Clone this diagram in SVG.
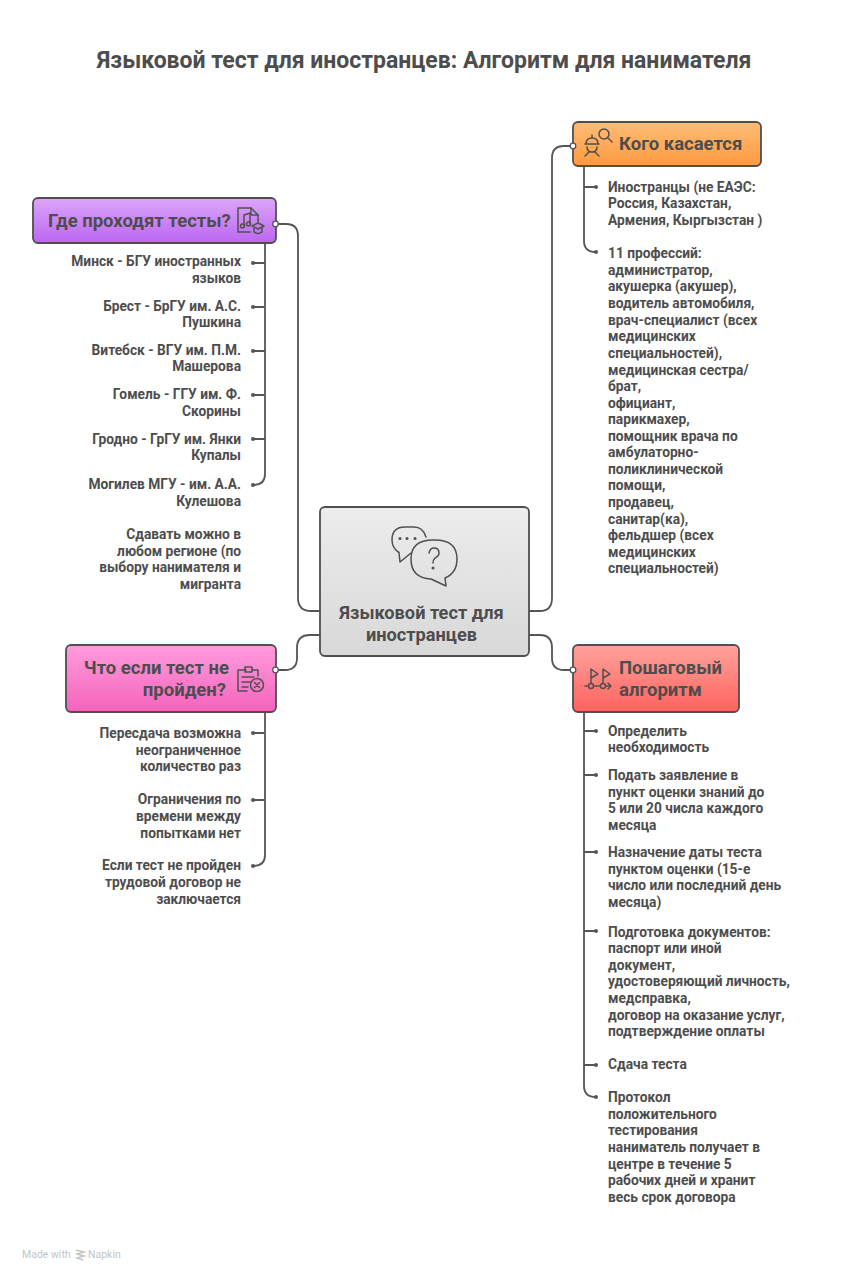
<svg xmlns="http://www.w3.org/2000/svg" width="849" height="1280" viewBox="0 0 849 1280">
<style>
text{font-family:Roboto,"Liberation Sans",sans-serif;font-weight:700;fill:#4d4d4d}
.t{font-size:23px;text-anchor:middle}
.h{font-size:18.5px}
.c{font-size:18.200px;text-anchor:middle}
.i{font-size:13.750px}
.r{text-anchor:end}
.box{stroke:#4f4f4f;stroke-width:1.8}
.ln{fill:none;stroke:#555;stroke-width:1.8;stroke-linecap:round}
.ic{fill:none;stroke:#505050;stroke-width:1.5;stroke-linecap:round;stroke-linejoin:round}
.pt{fill:#fff;stroke:#555;stroke-width:1.3}
.dot{fill:#555}
</style>
<defs>
<linearGradient id="gP" x1="0" y1="0" x2="0" y2="1"><stop offset="0" stop-color="#dca6f8"/><stop offset="1" stop-color="#bb66f2"/></linearGradient>
<linearGradient id="gO" x1="0" y1="0" x2="0" y2="1"><stop offset="0" stop-color="#ffbc76"/><stop offset="1" stop-color="#fd9a40"/></linearGradient>
<linearGradient id="gM" x1="0" y1="0" x2="0" y2="1"><stop offset="0" stop-color="#ff9cdc"/><stop offset="1" stop-color="#f563bc"/></linearGradient>
<linearGradient id="gR" x1="0" y1="0" x2="0" y2="1"><stop offset="0" stop-color="#ffa29c"/><stop offset="1" stop-color="#ff625e"/></linearGradient>
<linearGradient id="gG" x1="0" y1="0" x2="0" y2="1"><stop offset="0" stop-color="#ececec"/><stop offset="1" stop-color="#d8d8d8"/></linearGradient>
</defs>
<rect width="849" height="1280" fill="#fff"/>
<text id="title" class="t" x="424" y="68">Языковой тест для иностранцев: Алгоритм для нанимателя</text>

<g id="connectors">
<path class="ln" d="M275 224H286Q298 224 298 236V598Q298 611 311 611H320"/>
<path class="ln" d="M573 146H564Q552 146 552 158V598Q552 611 540 611H529"/>
<path class="ln" d="M275 670H285Q297 670 297 658V648Q297 635 310 635H320"/>
<path class="ln" d="M573 670H564Q552 670 552 658V648Q552 635 540 635H529"/>
<path class="ln" d="M265 243V474Q265 485 253 485M253 263H265M253 307H265M253 351H265M253 395H265M253 439H265"/>
<path class="ln" d="M584 166V241Q584 252 596 252M584 187H596"/>
<path class="ln" d="M265 712V855Q265 866 253 866M253 733H265M253 800H265"/>
<path class="ln" d="M584 712V1086Q584 1097 596 1097M584 731H596M584 775H596M584 852H596M584 931H596M584 1065H596"/>
<g class="dot">
<circle cx="253" cy="263" r="2"/><circle cx="253" cy="307" r="2"/><circle cx="253" cy="351" r="2"/><circle cx="253" cy="395" r="2"/><circle cx="253" cy="439" r="2"/><circle cx="253" cy="485" r="2"/>
<circle cx="596" cy="187" r="2"/><circle cx="596" cy="252" r="2"/>
<circle cx="253" cy="733" r="2"/><circle cx="253" cy="800" r="2"/><circle cx="253" cy="866" r="2"/>
<circle cx="596" cy="731" r="2"/><circle cx="596" cy="775" r="2"/><circle cx="596" cy="852" r="2"/><circle cx="596" cy="931" r="2"/><circle cx="596" cy="1065" r="2"/><circle cx="596" cy="1097" r="2"/>
</g>
</g>

<g id="node-center">
<rect class="box" x="320" y="507" width="209" height="149" rx="5" fill="url(#gG)"/>
<g class="ic">
<path d="M399 552.500L400 562L411 553M399 552.500Q392 548 392 540Q392 527 405 527H414Q423 527 426 537"/>
<path d="M445 578L446 586L431 579Q411 578 411 559Q411 540 433 540H435Q457 540 457 559Q457 573 445 578Z"/>
<path d="M429 553Q430 548 434 548Q439 548 439 553Q439 556 435 558Q433 560 433 563"/>
</g>
<circle cx="400" cy="538.500" r="1.500" fill="#505050"/><circle cx="407" cy="538.500" r="1.500" fill="#505050"/><circle cx="415" cy="538.500" r="1.500" fill="#505050"/><circle cx="433" cy="568" r="1.500" fill="#505050"/>
<text class="c" x="421.500" y="619">Языковой тест для</text>
<text class="c" x="421.500" y="641">иностранцев</text>
</g>

<g id="node-where">
<rect class="box" x="33" y="198" width="243" height="45" rx="5" fill="url(#gP)"/>
<text class="h" x="48" y="227">Где проходят тесты?</text>
<g class="ic">
<path d="M250 232H238V208H251L258 215V222"/><path d="M251 208V215H258"/>
<path d="M244 226V215L250 213V224"/><circle cx="242.500" cy="226" r="2"/><circle cx="248.500" cy="224" r="2"/>
<path d="M252 226L258 223L264 226L258 229ZM254 228V232Q258 235 262 232V228"/>
</g>
<circle class="pt" cx="275.500" cy="224" r="2.800"/>
</g>

<g id="node-who">
<rect class="box" x="573" y="122" width="188" height="44" rx="5" fill="url(#gO)"/>
<text class="h" x="619" y="150">Кого касается</text>
<g class="ic">
<circle cx="604" cy="134" r="5"/><path d="M608 138L612 142"/>
<path d="M586 144Q586 138 592 138Q598 138 598 144ZM585 144H599M587 147Q587 152 592 152Q597 152 597 147M589 152L585 156M595 152L599 156M592 138V135"/>
</g>
<circle class="pt" cx="573" cy="146" r="2.800"/>
</g>

<g id="node-fail">
<rect class="box" x="66" y="645" width="210" height="67" rx="5" fill="url(#gM)"/>
<text class="h r" x="229" y="674">Что если тест не</text>
<text class="h r" x="226" y="696">пройден?</text>
<g class="ic">
<path d="M246 670H238V691H247M258 676V670H252"/><path d="M245 667H252V672H245Z"/><path d="M242 677H254M242 682H250M242 687H248"/>
<circle cx="257" cy="685" r="6.500"/><path d="M254.500 682.500L259.500 687.500M259.500 682.500L254.500 687.500"/>
</g>
<circle class="pt" cx="275.500" cy="670" r="2.800"/>
</g>

<g id="node-steps">
<rect class="box" x="573" y="645" width="166" height="67" rx="5" fill="url(#gR)"/>
<text class="h" x="619" y="674">Пошаговый</text>
<text class="h" x="619" y="696">алгоритм</text>
<g class="ic">
<path d="M585 686H611M608 683L611 686L608 689"/><circle cx="591" cy="686" r="2.500" fill="#ff7a75"/><circle cx="603" cy="686" r="2.500" fill="#ff7a75"/>
<path d="M591 683V669L598 674L591 678M603 683V669L610 674L603 678"/>
</g>
<circle class="pt" cx="573" cy="670" r="2.800"/>
</g>

<g id="items-where">
<text class="i r" x="241" y="266">Минск - БГУ иностранных</text>
<text class="i r" x="241" y="283">языков</text>
<text class="i r" x="241" y="311">Брест - БрГУ им. А.С.</text>
<text class="i r" x="241" y="327">Пушкина</text>
<text class="i r" x="241" y="355">Витебск - ВГУ им. П.М.</text>
<text class="i r" x="241" y="371">Машерова</text>
<text class="i r" x="241" y="399">Гомель - ГГУ им. Ф.</text>
<text class="i r" x="241" y="416">Скорины</text>
<text class="i r" x="241" y="444">Гродно - ГрГУ им. Янки</text>
<text class="i r" x="241" y="460">Купалы</text>
<text class="i r" x="241" y="489">Могилев МГУ - им. А.А.</text>
<text class="i r" x="241" y="506">Кулешова</text>
<text class="i r" x="241" y="539">Сдавать можно в</text>
<text class="i r" x="241" y="556">любом регионе (по</text>
<text class="i r" x="241" y="572">выбору нанимателя и</text>
<text class="i r" x="241" y="589">мигранта</text>
</g>

<g id="items-who">
<text class="i" x="608" y="192">Иностранцы (не ЕАЭС:</text>
<text class="i" x="608" y="208">Россия, Казахстан,</text>
<text class="i" x="608" y="225">Армения, Кыргызстан )</text>
<text class="i" x="608" y="258">11 профессий:</text>
<text class="i" x="608" y="275">администратор,</text>
<text class="i" x="608" y="291">акушерка (акушер),</text>
<text class="i" x="608" y="308">водитель автомобиля,</text>
<text class="i" x="608" y="325">врач-специалист (всех</text>
<text class="i" x="608" y="341">медицинских</text>
<text class="i" x="608" y="358">специальностей),</text>
<text class="i" x="608" y="375">медицинская сестра/</text>
<text class="i" x="608" y="391">брат,</text>
<text class="i" x="608" y="408">официант,</text>
<text class="i" x="608" y="424">парикмахер,</text>
<text class="i" x="608" y="441">помощник врача по</text>
<text class="i" x="608" y="457">амбулаторно-</text>
<text class="i" x="608" y="474">поликлинической</text>
<text class="i" x="608" y="490">помощи,</text>
<text class="i" x="608" y="507">продавец,</text>
<text class="i" x="608" y="524">санитар(ка),</text>
<text class="i" x="608" y="540">фельдшер (всех</text>
<text class="i" x="608" y="557">медицинских</text>
<text class="i" x="608" y="573">специальностей)</text>
</g>

<g id="items-fail">
<text class="i r" x="241" y="738">Пересдача возможна</text>
<text class="i r" x="241" y="755">неограниченное</text>
<text class="i r" x="241" y="771">количество раз</text>
<text class="i r" x="241" y="804">Ограничения по</text>
<text class="i r" x="241" y="821">времени между</text>
<text class="i r" x="241" y="838">попытками нет</text>
<text class="i r" x="241" y="870">Если тест не пройден</text>
<text class="i r" x="241" y="887">трудовой договор не</text>
<text class="i r" x="241" y="904">заключается</text>
</g>

<g id="items-steps">
<text class="i" x="608" y="736">Определить</text>
<text class="i" x="608" y="752">необходимость</text>
<text class="i" x="608" y="780">Подать заявление в</text>
<text class="i" x="608" y="797">пункт оценки знаний до</text>
<text class="i" x="608" y="813">5 или 20 числа каждого</text>
<text class="i" x="608" y="830">месяца</text>
<text class="i" x="608" y="857">Назначение даты теста</text>
<text class="i" x="608" y="874">пунктом оценки (15-е</text>
<text class="i" x="608" y="890">число или последний день</text>
<text class="i" x="608" y="907">месяца)</text>
<text class="i" x="608" y="937">Подготовка документов:</text>
<text class="i" x="608" y="953">паспорт или иной</text>
<text class="i" x="608" y="970">документ,</text>
<text class="i" x="608" y="986">удостоверяющий личность,</text>
<text class="i" x="608" y="1003">медсправка,</text>
<text class="i" x="608" y="1020">договор на оказание услуг,</text>
<text class="i" x="608" y="1036">подтверждение оплаты</text>
<text class="i" x="608" y="1069">Сдача теста</text>
<text class="i" x="608" y="1102">Протокол</text>
<text class="i" x="608" y="1119">положительного</text>
<text class="i" x="608" y="1135">тестирования</text>
<text class="i" x="608" y="1152">наниматель получает в</text>
<text class="i" x="608" y="1169">центре в течение 5</text>
<text class="i" x="608" y="1185">рабочих дней и хранит</text>
<text class="i" x="608" y="1202">весь срок договора</text>
</g>

<g id="watermark">
<text x="22" y="1258" style="font-size:10.500px;font-weight:400;fill:#c4c4c4">Made with</text>
<path d="M76 1250L84 1252L77 1254L84 1256L77 1258L83 1260" fill="none" stroke="#c4c4c4" stroke-width="1.500"/>
<text x="88" y="1258" style="font-size:10.500px;font-weight:400;fill:#c4c4c4">Napkin</text>
</g>
</svg>
